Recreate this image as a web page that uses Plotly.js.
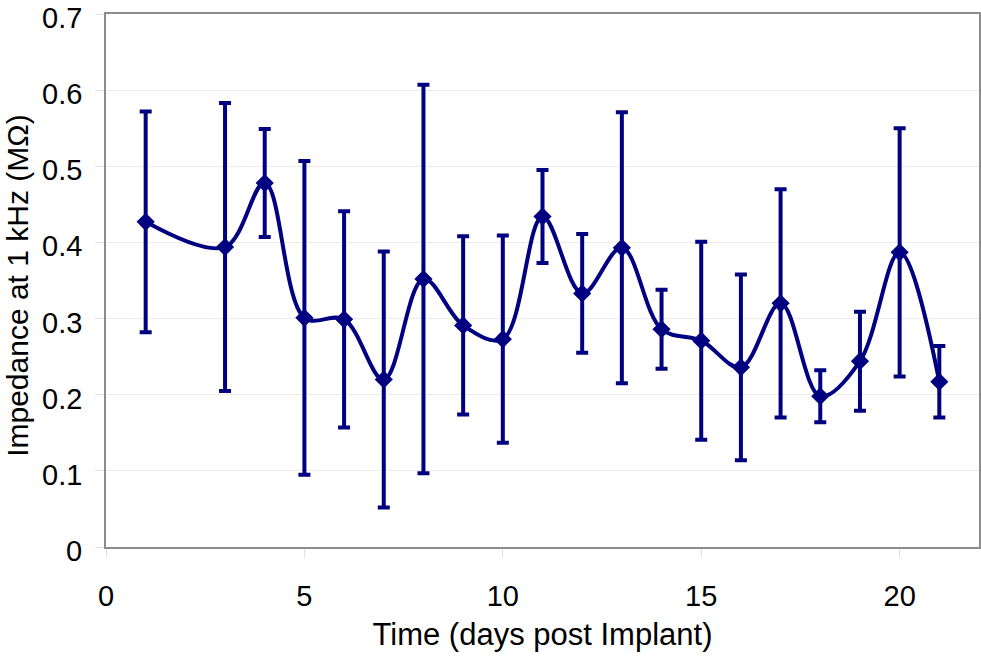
<!DOCTYPE html>
<html>
<head>
<meta charset="utf-8">
<script src="https://cdn.plot.ly/plotly-3.0.1.min.js"></script>
<style>
  html, body { margin: 0; padding: 0; background: #fff; }
  #chart { width: 981px; height: 663px; }
</style>
</head>
<body>
<div id="chart"></div>
<script>
// days post implant
var days = [1, 3, 4, 5, 6, 7, 8, 9, 10, 11, 12, 13, 14, 15, 16, 17, 18, 19, 20, 21];
// mean impedance at 1 kHz (MOhm)
var impedance = [0.427, 0.394, 0.478, 0.301, 0.299, 0.220, 0.352, 0.291, 0.273, 0.434,
                 0.333, 0.393, 0.286, 0.271, 0.236, 0.320, 0.198, 0.244, 0.387, 0.217];
// error bar half-length (MOhm)
var errs = [0.145, 0.189, 0.071, 0.206, 0.142, 0.168, 0.255, 0.117, 0.136, 0.061,
            0.078, 0.178, 0.052, 0.130, 0.122, 0.150, 0.034, 0.065, 0.163, 0.047];
// axis ticks
var xTicks = [0, 5, 10, 15, 20];
var yTicks = [0, 0.1, 0.2, 0.3, 0.4, 0.5, 0.6, 0.7];
var yTickText = ['0', '0.1', '0.2', '0.3', '0.4', '0.5', '0.6', '0.7'];

var navy = '#000080';
var fam = 'Liberation Sans, Arial, sans-serif';
var tickFont = { family: fam, size: 29, color: '#000' };
var titleFont = { family: fam, size: 30, color: '#000' };

var trace = {
  x: days,
  y: impedance,
  type: 'scatter',
  mode: 'lines+markers',
  line: { color: navy, width: 4, shape: 'spline', smoothing: 1 },
  marker: { symbol: 'diamond', size: 14, color: navy },
  error_y: { type: 'data', array: errs, visible: true, color: navy, thickness: 4, width: 6 },
  hoverinfo: 'x+y'
};

// y tick labels sit a little below their gridlines, as in the original
var annotations = yTicks.map(function (v, i) {
  return {
    xref: 'paper', yref: 'y', x: 0, y: v,
    text: yTickText[i], showarrow: false,
    xanchor: 'right', yanchor: 'middle',
    xshift: -22, yshift: -4,
    font: tickFont
  };
});
annotations.push({
  xref: 'paper', yref: 'paper', x: 0, y: 0.49,
  text: 'Impedance at 1 kHz (MΩ)', showarrow: false,
  textangle: -90, xanchor: 'center', yanchor: 'middle',
  xshift: -88,
  font: titleFont
});

var layout = {
  width: 981,
  height: 663,
  margin: { l: 106, r: 2, t: 14, b: 116 },
  paper_bgcolor: '#fff',
  plot_bgcolor: '#fff',
  showlegend: false,
  font: tickFont,
  annotations: annotations,
  xaxis: {
    range: [0, 22],
    tickvals: xTicks,
    showgrid: false,
    zeroline: false,
    showline: true,
    mirror: true,
    linecolor: '#8c8c8c',
    linewidth: 2,
    ticks: 'outside',
    ticklen: 9,
    tickcolor: '#e0e0e0',
    tickfont: tickFont,
    ticklabelstandoff: 13,
    title: { text: 'Time (days post Implant)', font: { family: fam, size: 31, color: '#000' }, standoff: 13 }
  },
  yaxis: {
    range: [0, 0.7],
    tickvals: yTicks,
    showticklabels: false,
    showgrid: true,
    gridcolor: '#ececec',
    gridwidth: 1,
    zeroline: false,
    showline: true,
    mirror: true,
    linecolor: '#8c8c8c',
    linewidth: 2,
    ticks: 'outside',
    ticklen: 9,
    tickcolor: '#e0e0e0'
  }
};

Plotly.newPlot('chart', [trace], layout, { displayModeBar: false, staticPlot: true });
</script>
</body>
</html>
